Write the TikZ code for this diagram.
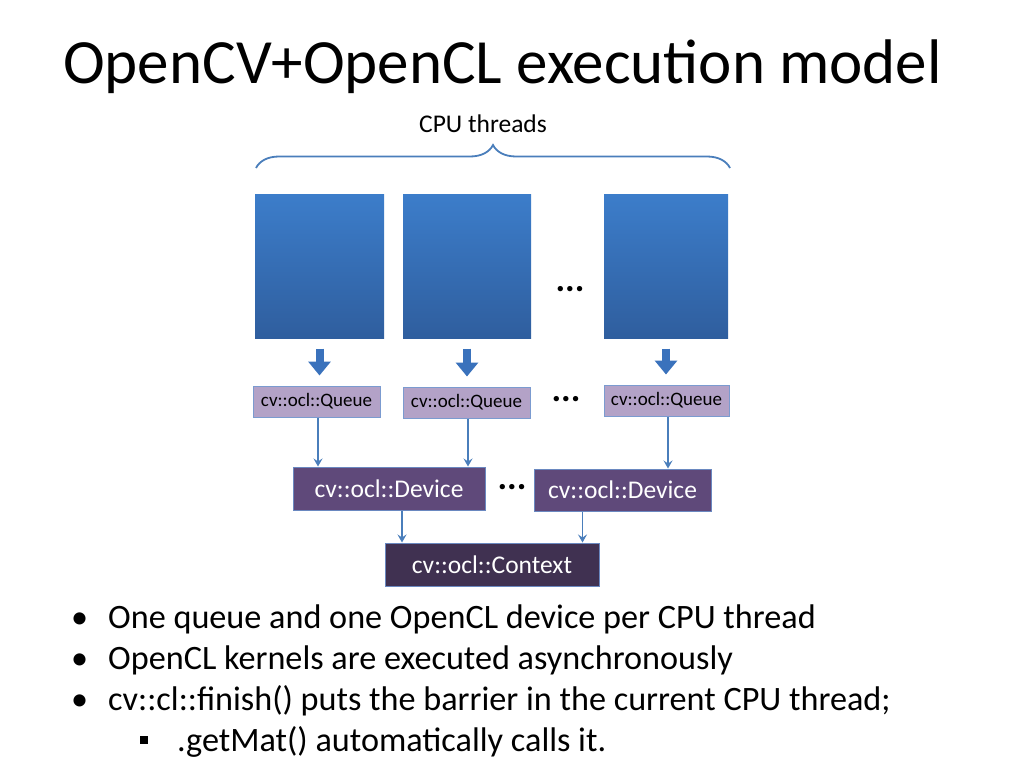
\documentclass[tikz,border=0pt]{standalone}
\usepackage{fontspec}
\setmainfont{Carlito}
\usepackage{tikz}
\usepackage{xcolor}
\usetikzlibrary{shapes,arrows.meta,decorations.pathreplacing}

\definecolor{thtop}{HTML}{3C7DCA}
\definecolor{thbot}{HTML}{2F5E9E}
\definecolor{qfill}{HTML}{B3A2C7}
\definecolor{qline}{HTML}{7B9BD0}
\definecolor{devfill}{HTML}{5F497A}
\definecolor{devline}{HTML}{6A88C0}
\definecolor{ctxfill}{HTML}{403151}
\definecolor{conn}{HTML}{4A7EBB}
\definecolor{blockarr}{HTML}{3A72BC}

\begin{document}
\begin{tikzpicture}[x=1pt,y=-1pt,
  thread/.style={inner sep=0pt, minimum height=144pt, top color=thtop, bottom color=thbot},
  queue/.style={draw=qline, fill=qfill, line width=1pt, inner sep=0pt, minimum width=127pt, minimum height=31pt, font=\fontsize{19}{22}\selectfont},
  device/.style={draw=devline, fill=devfill, line width=1pt, inner sep=0pt, minimum height=43pt, text=white, font=\fontsize{25.5}{28}\selectfont},
  dots/.style={anchor=base, inner sep=0pt, font=\fontsize{36}{38}\selectfont\bfseries},
  thin/.style={draw=conn, line width=1.2pt, -{Stealth[length=8pt,width=9pt,inset=3pt]}},
  block/.style={draw=blockarr, line width=8pt, shorten <=10pt, shorten >=10pt, -{Triangle[length=14pt,width=22pt]}},
  item/.style={anchor=base west, inner sep=0pt, font=\fontsize{34.2}{38}\selectfont}]
  \useasboundingbox (0,0) rectangle (1024,768);

  % title
  \node[anchor=base west, inner sep=0pt, font=\fontsize{63}{70}\selectfont] (title) at (63,83) {OpenCV+OpenCL execution model};

  % cpu threads
  \foreach \n/\x/\w in {1/319.5/129, 2/467/128, 3/666/124}{
    \node[thread, minimum width=\w pt] (th\n) at (\x,266.5) {}; }
  \node[dots] (dotsA) at (570,291) {...};

  \coordinate (bl) at (256,168);
  \coordinate (br) at (730,168);
  \draw[conn, line width=1.8pt, decorate, decoration={brace, amplitude=23pt}] (bl) -- (br);
  \node[font=\fontsize{25.5}{28}\selectfont] (cpu) at (483,124) {CPU threads};

  % queues
  \node[queue] (q1) at (316.5,401.5) {cv::ocl::Queue};
  \node[queue] (q2) at (466.5,402.5) {cv::ocl::Queue};
  \node[queue, minimum width=125pt] (q3) at (666.5,400.5) {cv::ocl::Queue};
  \node[dots] (dotsB) at (566,401) {...};

  \foreach \n in {1,2,3}{
    \draw[block] (th\n.south) -- (th\n.south |- q\n.north); }

  % devices
  \node[device, minimum width=192pt] (dev1) at (389,488.5) {cv::ocl::Device};
  \node[device, minimum width=177pt, minimum height=42pt] (dev2) at (622.5,490) {cv::ocl::Device};
  \node[dots] (dotsC) at (512,489) {...};

  \draw[thin] ([xshift=1.5pt]q1.south) -- ([xshift=1.5pt]q1.south |- dev1.north);
  \draw[thin] ([xshift=1.5pt]q2.south) -- ([xshift=1.5pt]q2.south |- dev1.north);
  \draw[thin] ([xshift=1.5pt]q3.south) -- ([xshift=1.5pt]q3.south |- dev2.north);

  % context
  \node[device, fill=ctxfill, minimum width=214pt] (ctx) at (492,564.5) {cv::ocl::Context};
  \draw[thin] ([xshift=13pt]dev1.south) -- ([xshift=13pt]dev1.south |- ctx.north);
  \draw[thin] ([xshift=-40pt]dev2.south) -- ([xshift=-40pt]dev2.south |- ctx.north);

  % bullets
  \foreach \n/\y/\txt in {1/628/One queue and one OpenCL device per CPU thread, 2/669/OpenCL kernels are executed asynchronously, 3/710/cv::cl::finish() puts the barrier in the current CPU thread;}{
    \node[item] (dot\n) at (71,\y) {•};
    \node[item] (b\n) at (108,\y) {\txt}; }
  \node[fill=black, inner sep=0pt, minimum size=8pt] (sq) at (144,739.5) {};
  \node[item] (b4) at (177,751) {.getMat() automatically calls it.};
\end{tikzpicture}
\end{document}
